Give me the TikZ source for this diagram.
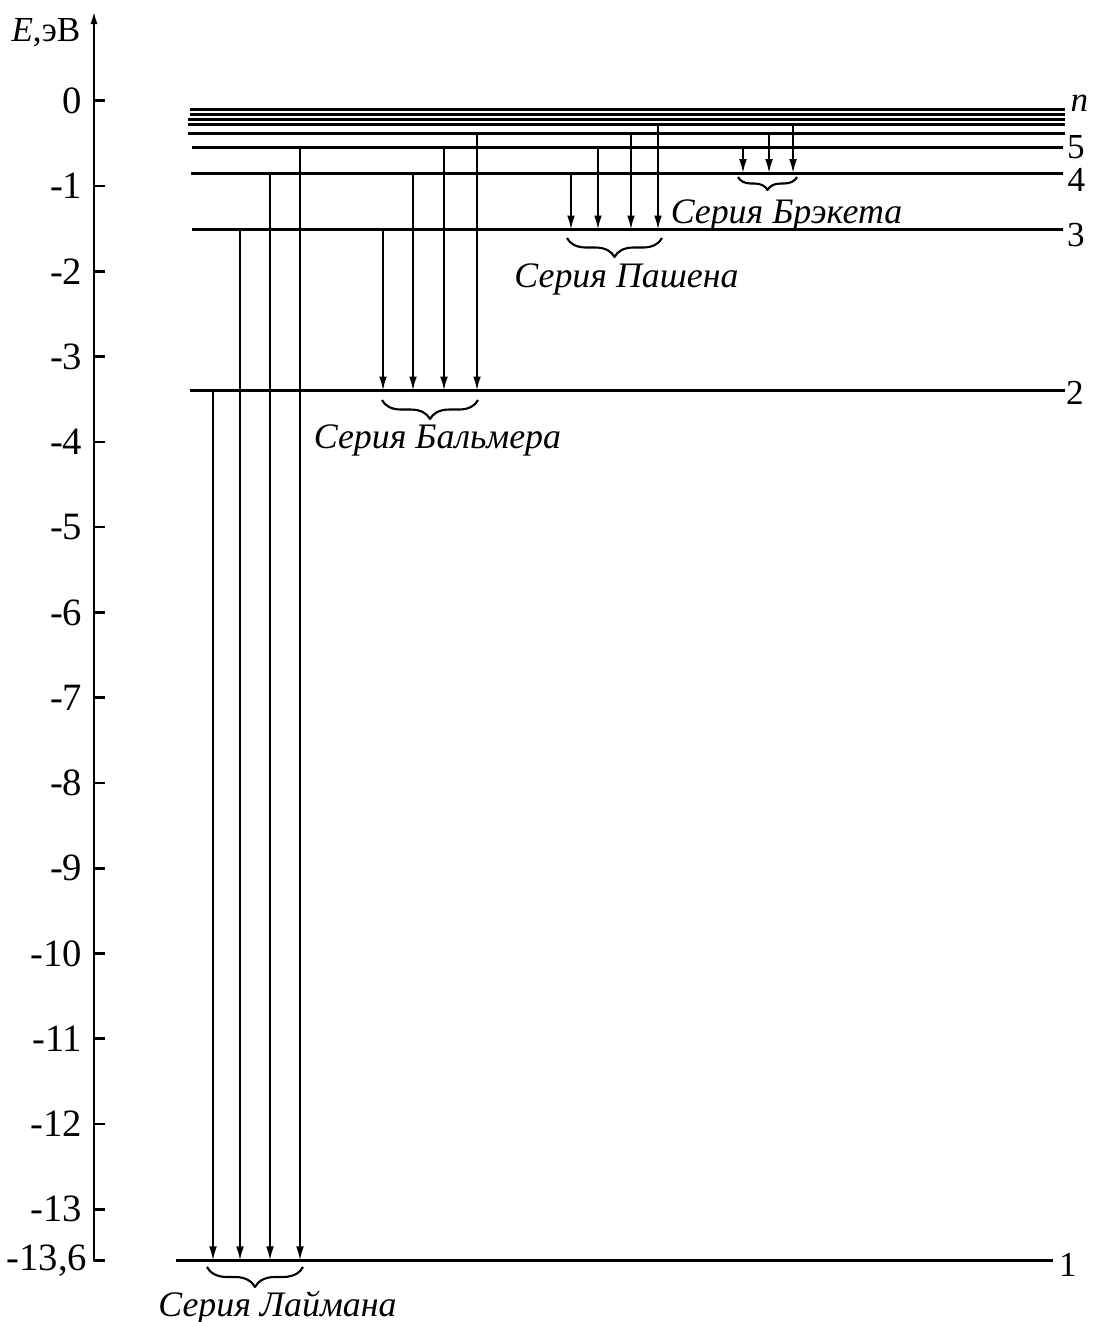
\documentclass[tikz,border=0pt]{standalone}
\usepackage{fontspec}
\setmainfont{Liberation Serif}
\usetikzlibrary{calc,arrows.meta,decorations.pathreplacing}

\begin{document}
\begin{tikzpicture}[line join=round, x=1cm, y=0.8528cm,
	level/.style={line width=0.85pt},
	trans/.style={line width=0.55pt,-{Latex[length=4pt,width=2.2pt]}},
	bracket/.style={decorate,decoration={brace,mirror,amplitude=#1},line width=0.6pt},
	ticklab/.style={anchor=east,inner sep=0,font=\fontsize{11}{13}\selectfont},
	numlab/.style={anchor=west,inner sep=0,font=\fontsize{10}{12}\selectfont},
	serlab/.style={anchor=base,inner sep=0,font=\fontsize{10.2}{12}\selectfont\itshape}]
	\useasboundingbox (0,-14.321) rectangle (10.94,1.181);

	% Energy axis
	\draw[line width=0.75pt,-{Latex[length=4pt,width=2pt]}] (1.05,-13.6) -- (0.94,-13.6) -- (0.94,1.064);
	\foreach \k in {0,...,13}
		\draw[line width=0.75pt] (0.94,-\k) -- (1.05,-\k);
	\node[ticklab] (t0) at (0.83,0) {0};
	\foreach \k in {1,...,13}
		\node[ticklab] (t\k) at (0.83,-\k) {-\k};
	\node[ticklab] (t136) at (0.88,-13.6) {-13,6};
	\node[anchor=east,inner sep=0,font=\fontsize{10}{12}\selectfont] (elab) at (0.81,0.794) {\textit{E},эВ};

	% Levels
	\foreach \n/\e/\a/\b in {1/-13.6/1.76/10.53, 2/-3.4/1.90/10.65, 3/-1.511/1.92/10.63,
		4/-0.85/1.91/10.63, 5/-0.544/1.92/10.63, 6/-0.387/1.88/10.65, 7/-0.277/1.88/10.65,
		8/-0.226/1.88/10.65, 9/-0.159/1.90/10.65, 10/-0.101/1.90/10.65}
		\draw[level] (\a,\e) coordinate (L\n) -- (\b,\e);

	\node[numlab] (nn) at (10.70,-0.03) {\textit{n}};
	\node[numlab] (n5) at (10.665,-0.543) {5};
	\node[numlab] (n4) at (10.67,-0.93) {4};
	\node[numlab] (n3) at (10.665,-1.575) {3};
	\node[numlab] (n2) at (10.655,-3.42) {2};
	\node[numlab] (n1) at (10.585,-13.653) {1};

	% Transitions
	\foreach \x/\u/\l in {2.13/2/1, 2.40/3/1, 2.70/4/1, 3.00/5/1,
		3.83/3/2, 4.13/4/2, 4.44/5/2, 4.77/6/2,
		5.71/4/3, 5.98/5/3, 6.31/6/3, 6.58/7/3,
		7.43/5/4, 7.69/6/4, 7.93/7/4}
	{
		\coordinate (a) at (\x,0);
		\draw[trans] (a |- L\u) -- (a |- L\l);
	}

	% Series
	\draw[bracket=0.2cm] (2.07,-13.676) -- (3.03,-13.676);
	\draw[bracket=0.19cm] (3.82,-3.51) -- (4.78,-3.51);
	\draw[bracket=0.19cm] (5.67,-1.61) -- (6.62,-1.61);
	\draw[bracket=0.13cm] (7.38,-0.895) -- (7.97,-0.895);

	\node[serlab] (lyman) at (2.775,-14.262) {Серия Лаймана};
	\node[serlab] (balmer) at (4.375,-4.084) {Серия Бальмера};
	\node[serlab] (paschen) at (6.265,-2.196) {Серия Пашена};
	\node[serlab] (brackett) at (7.865,-1.434) {Серия Брэкета};
\end{tikzpicture}
\end{document}
